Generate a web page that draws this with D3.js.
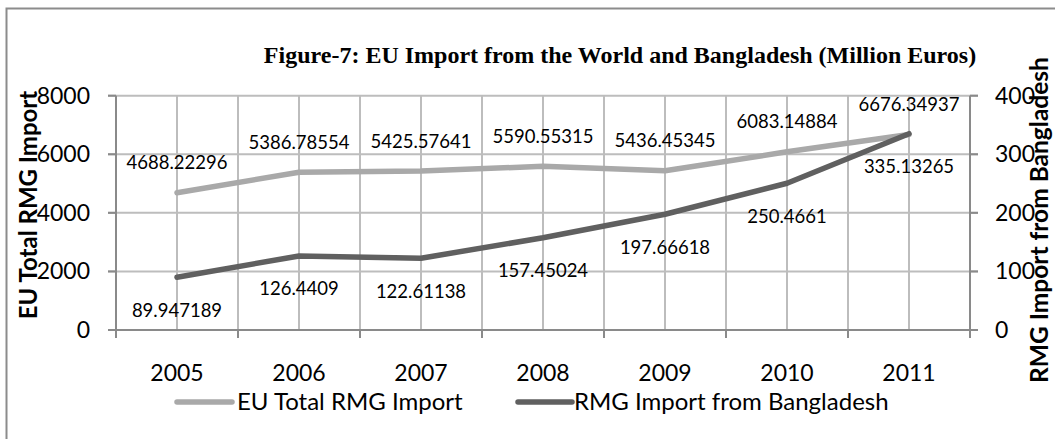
<!DOCTYPE html>
<html><head><meta charset="utf-8">
<script src="https://cdn.jsdelivr.net/npm/d3@7"></script>
<style>
html,body{margin:0;padding:0;background:#fff;}
svg{display:block;}
</style></head>
<body>
<svg id="chart" width="1055" height="439"></svg>
<script>
const years = ["2005","2006","2007","2008","2009","2010","2011"];
const euTotal = [4688.22296, 5386.78554, 5425.57641, 5590.55315, 5436.45345, 6083.14884, 6676.34937];
const bangladesh = [89.947189, 126.4409, 122.61138, 157.45024, 197.66618, 250.4661, 335.13265];
const euLabels = ["4688.22296","5386.78554","5425.57641","5590.55315","5436.45345","6083.14884","6676.34937"];
const bdLabels = ["89.947189","126.4409","122.61138","157.45024","197.66618","250.4661","335.13265"];
const leftTicks = [0,2000,4000,6000,8000];
const rightTicks = [0,100,200,300,400];
const seriesNames = ["EU Total RMG Import","RMG Import from Bangladesh"];
const titleText = "Figure-7: EU Import from the World and Bangladesh (Million Euros)";

const FONT = "Lato, 'Open Sans', sans-serif";
const svg = d3.select("#chart");
const L = 116, R = 970, T = 95.7, B = 330;
const lightC = "#a9a9a9", darkC = "#606060", gridC = "#bdbdbd", axisC = "#8a8a8a";

// frame
svg.append("path").attr("d", "M6.5,445 V8.5 H1060").attr("fill","none").attr("stroke","#8c8c8c").attr("stroke-width",2);

const x = d3.scaleBand().domain(years).range([L, R]).paddingInner(0).paddingOuter(0);
const cx = d => x(d) + x.bandwidth()/2;
const yL = d3.scaleLinear().domain([0,8000]).range([B, T]);
const yR = d3.scaleLinear().domain([0,400]).range([B, T]);

// horizontal gridlines
svg.append("g").selectAll("line").data(leftTicks.filter(t=>t>0)).join("line")
  .attr("x1", L-8).attr("x2", R+8).attr("y1", d=>yL(d)).attr("y2", d=>yL(d))
  .attr("stroke", gridC).attr("stroke-width", 2);
// vertical gridlines at centers and boundaries
const vx = [];
years.forEach(y => { vx.push(x(y)); vx.push(cx(y)); });
vx.push(R);
svg.append("g").selectAll("line").data(vx.filter(v=>v>L+1 && v<R-1)).join("line")
  .attr("x1", d=>d).attr("x2", d=>d).attr("y1", T).attr("y2", B)
  .attr("stroke", gridC).attr("stroke-width", 2);

// axes lines
svg.append("line").attr("x1",L).attr("x2",L).attr("y1",T).attr("y2",B+8).attr("stroke",axisC).attr("stroke-width",2);
svg.append("line").attr("x1",R).attr("x2",R).attr("y1",T).attr("y2",B+8).attr("stroke",axisC).attr("stroke-width",2);
svg.append("line").attr("x1",L-8).attr("x2",R+8).attr("y1",B).attr("y2",B).attr("stroke",axisC).attr("stroke-width",2);
// left/right ticks
svg.append("g").selectAll("line").data(leftTicks).join("line")
  .attr("x1",L-8).attr("x2",L).attr("y1",d=>yL(d)).attr("y2",d=>yL(d)).attr("stroke",axisC).attr("stroke-width",2);
svg.append("g").selectAll("line").data(rightTicks).join("line")
  .attr("x1",R).attr("x2",R+8).attr("y1",d=>yR(d)).attr("y2",d=>yR(d)).attr("stroke",axisC).attr("stroke-width",2);
// bottom ticks at boundaries
svg.append("g").selectAll("line").data(years.map(y=>x(y)).concat([R])).join("line")
  .attr("x1",d=>d).attr("x2",d=>d).attr("y1",B).attr("y2",B+8).attr("stroke",axisC).attr("stroke-width",2);

// tick labels
svg.append("g").selectAll("text").data(leftTicks).join("text")
  .attr("x", 90).attr("y", d=>yL(d)).attr("dy","0.35em").attr("text-anchor","end")
  .attr("font-family",FONT).attr("font-size",23).attr("fill","#000").text(d=>d);
svg.append("g").selectAll("text").data(rightTicks).join("text")
  .attr("x", 995).attr("y", d=>yR(d)).attr("dy","0.35em").attr("text-anchor","start")
  .attr("font-family",FONT).attr("font-size",23).attr("fill","#000").text(d=>d);
svg.append("g").selectAll("text").data(years).join("text")
  .attr("x", d=>cx(d)).attr("y", 373).attr("dy","0.35em").attr("text-anchor","middle")
  .attr("font-family",FONT).attr("font-size",23).attr("fill","#000").text(d=>d);

// lines
const lineL = d3.line().x((d,i)=>cx(years[i])).y(d=>yL(d));
const lineR = d3.line().x((d,i)=>cx(years[i])).y(d=>yR(d));
svg.append("path").datum(euTotal).attr("d",lineL).attr("fill","none").attr("stroke",lightC).attr("stroke-width",5.5).attr("stroke-linejoin","round").attr("stroke-linecap","round");
svg.append("path").datum(bangladesh).attr("d",lineR).attr("fill","none").attr("stroke",darkC).attr("stroke-width",5.5).attr("stroke-linejoin","round").attr("stroke-linecap","round");

// data labels
svg.append("g").selectAll("text").data(euTotal).join("text")
  .attr("x",(d,i)=>cx(years[i])).attr("y",d=>yL(d)-30).attr("dy","0.35em").attr("text-anchor","middle")
  .attr("font-family",FONT).attr("font-size",18.5).attr("fill","#000").text((d,i)=>euLabels[i]);
svg.append("g").selectAll("text").data(bangladesh).join("text")
  .attr("x",(d,i)=>cx(years[i])).attr("y",d=>yR(d)+33).attr("dy","0.35em").attr("text-anchor","middle")
  .attr("font-family",FONT).attr("font-size",18.5).attr("fill","#000").text((d,i)=>bdLabels[i]);

// title
svg.append("text").attr("x",620).attr("y",63).attr("text-anchor","middle")
  .attr("font-family","'Liberation Serif','Times New Roman',serif").attr("font-weight","bold")
  .attr("font-size",24).attr("fill","#000").text(titleText);

// axis titles
svg.append("text").attr("transform","translate(37,205) rotate(-90)").attr("text-anchor","middle")
  .attr("font-family",FONT).attr("font-weight","bold").attr("font-size",24).attr("fill","#000").text(seriesNames[0]);
svg.append("text").attr("transform","translate(1048,220) rotate(-90)").attr("text-anchor","middle")
  .attr("font-family",FONT).attr("font-weight","bold").attr("font-size",24.5).attr("fill","#000").text(seriesNames[1]);

// legend
const leg = [{x1:177,x2:232,tx:237,c:lightC,t:seriesNames[0]},{x1:518,x2:572,tx:574,c:darkC,t:seriesNames[1]}];
leg.forEach(l=>{
  svg.append("line").attr("x1",l.x1).attr("x2",l.x2).attr("y1",402).attr("y2",402).attr("stroke",l.c).attr("stroke-width",5.5).attr("stroke-linecap","round");
  svg.append("text").attr("x",l.tx).attr("y",402).attr("dy","0.35em").attr("font-family",FONT).attr("font-size",24).attr("fill","#000").text(l.t);
});
</script>
</body></html>
